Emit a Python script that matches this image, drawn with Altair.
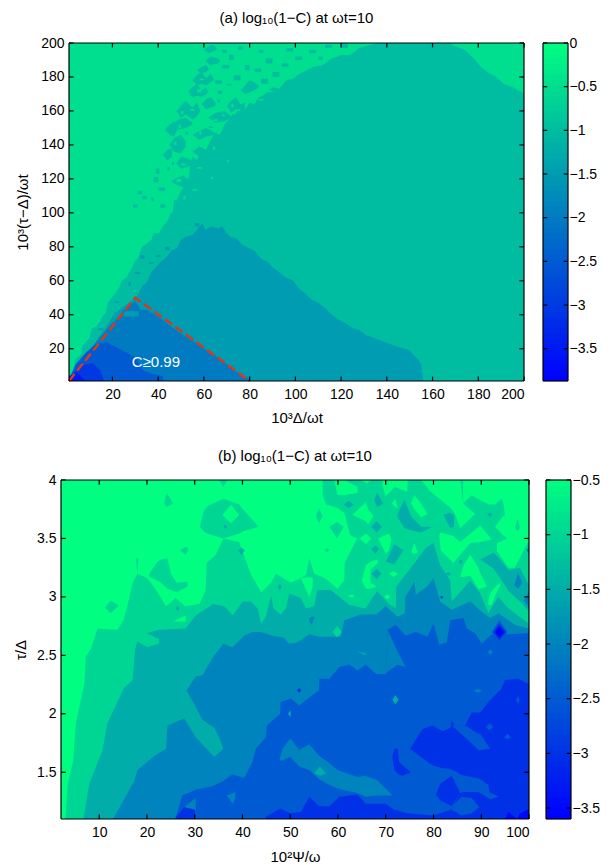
import altair as alt
import numpy as np
import pandas as pd

FONT = "Liberation Sans"

# ---------- panel (a): axis and colour range ----------
A_XLIM = [1, 200]
A_YLIM = [1, 200]
A_XTICKS = [20, 40, 60, 80, 100, 120, 140, 160, 180, 200]
A_YTICKS = [20, 40, 60, 80, 100, 120, 140, 160, 180, 200]
A_CLIM = [-3.87, 0]
A_CTICKS = [0, -0.5, -1, -1.5, -2, -2.5, -3, -3.5]

# upper edges of the filled bands of panel (a): (x, upper y)
A_BAND_M1 = [(1,1),(1.7,3),(3,9),(3.9,14),(6,16),(7,22),(9.8,26),(11,32),(13,33),(15.6,39),(17,41),(18,47),(21.4,53),(23,56),(24,60),(26,62),(28.7,68),(30,72),(31,73),(33,80),(35,82),(37,84),(38,88),(40.4,88),(42,92),(44,95),(45.5,100),(46.3,100),(47,108),(48,107),(50,113),(52,117),(53.6,122),(54,129),(55,133),(57,131),(59,138),(61,137),(63,143),(65,147),(67,146),(69,152),(71,155),(72.5,158),(74,158),(75.5,163),(78,161),(80,165),(82,164),(84,168),(87,170),(90,174),(93,173),(96,178),(99,179),(102,182),(105,184),(108,186),(112,187),(116,191),(120,193),(124,193),(128,197),(133,199),(136,200),(167,200),(170,198),(174,196),(178,191),(181,186),(185,182),(188,180),(191,176),(195,174),(199,171),(200,170)]
A_BAND_M15 = [(1,1),(1.7,4),(5,10),(8.3,16),(11,20),(14,27),(17,32),(21,41),(24,44),(27,47),(30,50),(31.7,53),(33,57),(35,59),(37,65),(39,68),(41,71),(43,73),(46,78),(48,79),(50,84),(52,86),(55,87),(57,90),(59.4,94),(60.5,90),(63,92),(66,91),(68,92),(70,88),(71.5,86),(74,85),(77,81),(80,79),(82,78),(85,73),(88,71),(90,68),(93,65),(96,62),(99,60),(102,55),(104,53),(107,49),(110,47),(113,44),(116,40),(119,37),(122,35),(125,32),(128,31),(131,28),(133,27),(137,25),(141,23),(145,21),(148,20),(150,19),(152,16),(154,13),(155,11),(155.5,6),(156,1)]
A_BAND_M2 = [(1,1),(1.5,4),(6,13),(12.7,23.5),(18.5,33),(23,39),(24.4,42),(27,45),(30,48),(32.4,43),(35,43),(40,39),(44.8,34),(50,29),(55,24.5),(60,20),(65,15.7),(70,11),(72.5,8),(76,5),(80,2.5),(80.5,1)]
A_BAND_M25 = [(1,1),(1,2),(4,11),(8.3,17.7),(12.7,22.6),(17,24),(20,22),(23.6,19.6),(27,17),(30.2,14.7),(32,10),(33.8,6.9),(38,5),(41.9,3.9),(42.6,1)]
A_BAND_M3 = [(1,1),(1.5,3),(5.4,9.8),(8,10.5),(11.2,11.8),(14.9,6.9),(16.3,1)]
A_BAND_M35 = [(1,1),(1,4),(4.6,5.9),(8.3,1)]

# irregular teal blobs of the speckled zone of panel (a): (x, lower y, upper y)
A_BLOBS_M1 = [
    [(60,196,196),(62,194,198),(64,195,199),(65.5,196,197)],
    [(61,189,190),(63,187,192),(66,188,191),(67,189,190)],
    [(57,184,184),(59,182,186),(61,183,187),(62,184,185)],
    [(55,178,178),(57,175,181),(59,176,183),(61,175,179),(63,177,182),(64.5,178,178)],
    [(53,171,171),(55,168,174),(57,169,176),(59,168,172),(61,170,174),(62,171,171)],
    [(48,160,160),(50,156,163),(52,158,166),(55,155,162),(57,157,165),(58.5,160,160)],
    [(59,164,164),(61,161,167),(63,162,168),(65,163,165)],
    [(70,163,163),(72,159,166),(74,161,168),(76,159,164),(78,162,165)],
    [(43,149,149),(45,146,152),(47,145,154),(48.5,149,150)],
    [(46,152,152),(49,149,155),(52,150,156),(55,152,153)],
    [(42,134,134),(44,131,137),(46,133,138)],
    [(45,140,140),(47,136,144),(50,135,146),(52,139,142)],
    [(55,146,146),(58,143,148),(61,145,150),(65,146,147)],
    [(62,156,156),(65,153,159),(69,154,160),(72,156,157)],
    [(48,129,129),(50,126,133),(53,127,132),(55,129,130)],
    [(46,118,119),(49,116,121),(51,115,122),(53.5,118,119)],
    [(55,136,136),(58,133,139),(61,135,137)],
    [(76,172,172),(78,170,175),(80,171,178),(82,172,177),(84,174,175)],
]
# single small speckles of panel (a): (x0, x1, y0, y1)
A_SPECK_M1 = [(68,71,185,187),(65,68,176,178),(39,40.5,123,126),(38,40,118,121),(31,33,111,113),(33,35,108,110),(37,38,107,109),(29,31,103,105),(40,43,113,115),(41,43,103,105),(73,76,178,181),(78,80,184,187),(71,73,190,193),(82,85,183,185),(85,88,176,179),(90,93,180,183),(87,90,188,191),(94,97,186,188),(100,103,190,192),(96,99,195,197),(106,109,194,196),(113,116,197,199),(110,112,190,192),(120,123,197,200),(66,68,170,172),(75,77,196,198),(84,86,194,196),(68,70,194,196),(66,67,165,167),(62,64,150,151),(46,47,128,130),(44,45,125,127),(52,53,146,148),(60,61,178,180),(70,72,175,176)]
A_SPECK_M05 = [(50,51,158,160),(54,56,160,161),(57,59,171,173),(58,60,178,179),(47,48,140,142),(49,50,150,152),(50,52,128,129),(48,50,118,120),(58,59,146,148),(64,66,154,155),(72,73,162,164),(74,76,160,161),(88,90,171,172),(92,94,176,177),(100,102,183,184),(107,109,188,189),(117,119,192,193),(84,86,166,167),(64,65,137,139),(57,59,126,127),(55,57,113,114),(70,71,130,131),(63,64,120,121),(52,54,136,137),(43,44,120,122),(51,52,108,110),(60,62,151,152),(68,69,157,158),(53,54,170,171),(55,56,179,180)]
A_SPECK_M15 = [(32,34,73,75),(36,38,70,71),(39,41,74,75),(43,45,78,80),(30,32,64,65),(27,28,57,59),(25,31.5,39,42),(21,23,47,48),(66,68,86,87),(56,58,92,94),(14,16,31,32),(73,75,9,10)]

# ---------- panel (b): axis and colour range ----------
B_XLIM = [2, 100]
B_YLIM = [1.1, 4]
B_XTICKS = [10, 20, 30, 40, 50, 60, 70, 80, 90, 100]
B_YTICKS = [1.5, 2, 2.5, 3, 3.5, 4]
B_CLIM = [-3.6, -0.5]
B_CTICKS = [-0.5, -1, -1.5, -2, -2.5, -3, -3.5]

# each contour patch of panel (b) is a list of (x, lower y, upper y)
B_M1_MAIN = [(2.9,1.1,1.1),(3.4,1.1,1.4),(4.55,1.1,1.6),(5.1,1.1,1.92),(6.9,1.1,2.26),(7.2,1.1,2.49),(8.3,1.1,2.56),(9.65,1.1,2.73),(13.8,1.1,2.72),(15.1,1.1,2.8),(16.3,1.1,2.99),(17,1.1,3.12),(18,1.1,3.2),(20.1,1.1,3.16),(21.9,1.1,3.06),(24,1.1,2.92),(26,1.1,2.99),(28,1.1,2.92),(31,1.1,2.94),(32.3,1.1,3.06),(32.5,1.1,3.29),(34.4,1.1,3.36),(36,1.1,3.5),(39.3,1.1,3.47),(41.8,1.1,3.19),(43.9,1.1,3.04),(46,1.1,3.12),(47,1.1,3.2),(50.1,1.1,3.12),(52.2,1.1,3.16),(53.3,1.1,3.19),(54,1.1,3.33),(55,1.1,3.2),(56.75,1.1,3.17),(56.8,1.1,4),(100,1.1,4)]
B_M1_ISLANDS = [
    [(31.1,3.6,3.6),(31.9,3.56,3.74),(32.8,3.54,3.78),(36,3.5,3.84),(39.3,3.54,3.79),(40.1,3.56,3.75),(43.4,3.6,3.6)],
    [(23.6,3.8,3.8),(24.1,3.77,3.89),(25.5,3.8,3.8)],
    [(26.9,3.4,3.4),(28.1,3.36,3.43),(28.6,3.4,3.42)],
    [(17.7,3.32,3.32),(18,3.2,3.34),(18.2,3.32,3.32)],
    [(35.1,4,4),(36,3.94,4),(36.8,4,4)],
    [(20.5,3.17,3.2),(22.2,3.14,3.3),(22.9,3.12,3.32),(24.3,3.07,3.33),(25,3.06,3.2),(26.2,3.04,3.12),(28.5,3.09,3.13)],
    [(11.2,2.91,2.91),(12.4,2.86,2.97),(14,2.92,2.93)],
]
B_BRIGHT_OVER = [
    [(52.2,3.16,3.16),(54,3.0,3.17),(54.7,3.09,3.16)],
    [(56.6,3.17,3.87),(56.8,3.17,3.87),(57.5,3.15,3.79),(58.5,3.12,3.78),(59.9,3.07,3.76),(61.3,3.14,3.72),(61.4,3.29,3.71),(62.5,3.38,3.53),(64,3.5,3.5)],
    [(59.2,4,4),(59.9,3.87,4),(61.3,3.87,4),(64.1,3.89,3.94)],
    [(63,3.7,3.7),(65.8,3.65,3.81),(66.3,3.62,3.75),(67.4,3.69,3.69)],
    [(64.5,3.5,3.5),(65.85,3.45,3.54),(67,3.5,3.5)],
    [(68.4,3.5,3.5),(70,3.37,3.53),(70.7,3.4,3.54),(71.2,3.49,3.49)],
    [(65,3.14,3.14),(65.85,3.07,3.27),(66.8,3.07,3.3)],
    [(66.8,3.23,3.3),(68.3,3.29,3.32)],
    [(66.8,3.07,3.12),(68,3.09,3.09)],
    [(70.7,3.2,3.2),(71.7,3.17,3.22),(72.6,3.2,3.2)],
    [(75.3,3.38,3.38),(76,3.37,3.46),(76.7,3.38,3.38)],
    [(71.3,3.8,3.8),(72,3.77,3.84),(72.5,3.76,3.77)],
    [(64.8,4,4),(66,3.97,4),(67,4,4)],
    [(69.3,3.95,4),(70,3.86,4),(71.9,3.94,4),(74.5,3.9,4),(74.6,4,4)],
    [(75.3,3.8,3.8),(76,3.75,3.87),(77.4,3.68,3.8),(78.7,3.71,3.71)],
    [(77.4,4,4),(79.4,3.9,4),(83.6,3.76,4),(84.5,3.71,4),(85.6,3.59,4),(86.2,3.61,3.8),(88.7,3.71,3.71)],
    [(86.2,3.8,4),(88,3.87,4),(91.5,3.79,4),(92.9,3.79,4),(94.3,3.84,4),(94.8,3.77,4),(95.7,3.25,4),(97,3.25,4),(99.7,3.46,4),(100,3.46,4)],
    [(92.9,3.6,3.6),(94.5,3.53,3.69),(95.7,3.5,3.69)],
    [(93.3,3.39,3.46),(95.7,3.25,3.5)],
    [(81.2,3.53,3.53),(81.5,3.4,3.55),(84.2,3.29,3.52),(85.6,3.36,3.47),(87.7,3.46,3.54),(89.8,3.47,3.61),(92.2,3.49,3.49)],
    [(85.6,3.17,3.17),(86.3,3.17,3.27),(87.7,3.18,3.36),(89.4,3.07,3.25),(89.8,3.07,3.2),(91.2,3.09,3.09)],
    [(91.5,2.93,2.97),(91.9,2.93,3.03),(92.2,2.93,3.05),(93,3.02,3.09),(94,3.1,3.12)],
    [(35.8,3.7,3.7),(37.6,3.63,3.79),(39.3,3.7,3.7)],
    [(62,3.01,3.01),(63,2.99,3.02),(63.4,3.01,3.01)],
    [(69.7,3.0,3.0),(70.3,2.98,3.02),(71,3.0,3.0)],
    [(25.5,2.79,2.79),(26.5,2.79,2.81),(28.1,2.79,2.84)],
]
B_M1_ON_BRIGHT = [
    [(55.4,3.69,3.69),(56,3.63,3.76),(56.8,3.69,3.69)],
    [(58.2,3.6,3.6),(59.8,3.5,3.64),(61.2,3.6,3.6)],
    [(57.2,3.4,3.4),(57.7,3.38,3.42),(58.2,3.4,3.4)],
    [(97.1,3.59,3.59),(97.6,3.56,3.67),(98.1,3.59,3.59)],
]
B_M15_ISLANDS = [
    [(61.2,3.79,3.79),(62.2,3.76,3.82),(63.3,3.79,3.79)],
    [(67.6,3.83,3.83),(68.2,3.77,3.89),(69.5,3.8,3.8)],
    [(67,3.6,3.6),(68.1,3.55,3.65),(69.2,3.6,3.6)],
    [(67,3.41,3.41),(67.8,3.37,3.44),(68.6,3.41,3.41)],
    [(67,3.2,3.2),(68.1,3.15,3.24),(69.1,3.2,3.2)],
    [(70,3.3,3.3),(71.8,3.28,3.45),(73.7,3.4,3.4)],
    [(72.5,3.68,3.71),(73.9,3.59,3.83),(75.3,3.57,3.69),(77.4,3.55,3.6),(79.8,3.6,3.6)],
    [(82.1,3.7,3.7),(83.5,3.59,3.72),(84.3,3.6,3.7)],
    [(91.2,3.71,3.71),(91.8,3.68,3.72),(92.4,3.71,3.71)],
    [(89.8,3.32,3.32),(92.6,3.24,3.38),(94,3.16,3.32),(95.7,3.05,3.23),(98.1,2.96,3.25),(100,2.88,3.1)],
    [(47.4,3.09,3.09),(47.8,3.05,3.11),(48.2,3.09,3.09)],
    [(39,3.4,3.4),(39.8,3.36,3.42),(40.5,3.4,3.4)],
    [(36,3.6,3.6),(36.4,3.58,3.62),(36.8,3.6,3.6)],
    [(82.4,3.2,3.2),(83.1,3.18,3.21),(83.8,3.2,3.2)],
    [(85.3,3.3,3.3),(85.7,3.28,3.32),(86.1,3.3,3.3)],
    [(78,3.3,3.3),(78.4,3.28,3.32),(78.8,3.3,3.3)],
    [(26,2.9,2.9),(26.4,2.88,2.92),(26.8,2.9,2.9)],
]
B_M15_MAIN = [(6.7,1.1,1.1),(7.9,1.1,1.4),(10.7,1.1,1.69),(11.7,1.1,1.92),(15.2,1.1,2.22),(17,1.1,2.29),(17.5,1.1,2.55),(18,1.1,2.62),(20,1.1,2.57),(22.5,1.1,2.6),(22.6,1.1,2.72),(28.1,1.1,2.73),(30.2,1.1,2.84),(33.9,1.1,2.94),(36.2,1.1,2.92),(38,1.1,2.84),(40,1.1,2.96),(41.8,1.1,2.96),(43.2,1.1,2.9),(43.9,1.1,2.77),(44.9,1.1,2.83),(46,1.1,3.01),(46.5,1.1,2.9),(48,1.1,2.85),(49.1,1.1,2.9),(49.8,1.1,3.03),(52.2,1.1,2.99),(53.3,1.1,2.9),(55,1.1,2.92),(55.7,1.1,3.06),(58.5,1.1,3.06),(62.4,1.1,2.93),(65.8,1.1,2.9),(67,1.1,2.98),(68.2,1.1,3.05),(70.7,1.1,2.94),(72.1,1.1,2.9),(72.2,1.1,3.09),(75.3,1.1,3.25),(78.4,1.1,3.42),(80,1.1,3.46),(81.4,1.1,3.27),(83.5,1.1,3.14),(83.8,1.1,2.96),(86,1.1,3.06),(87.7,1.1,3.14),(89.8,1.1,3.03),(91.5,1.1,2.86),(92.6,1.1,2.94),(93.6,1.1,3.0),(95.7,1.1,2.9),(100,1.1,2.77)]
B_M15_TIP = [[(19.9,2.69,2.69),(22.6,2.64,2.72)]]
B_M1_ON_M15 = [
    [(58.9,2.7,2.7),(59.8,2.65,2.75),(60.8,2.7,2.7)],
    [(75.5,2.8,2.8),(76.3,2.77,2.83),(77.4,2.8,2.8)],
]
B_M2_LEFT = [(12.9,1.1,1.1),(17.3,1.1,1.42),(18,1.1,1.52),(21.9,1.1,1.65),(24,1.1,1.7),(24.3,1.1,1.9),(27.8,1.1,1.96),(30.2,1.1,1.8),(34.1,1.1,1.63),(36,1.1,1.7),(37.9,1.1,2.57),(40.4,1.1,2.67),(42.1,1.1,2.7),(43.9,1.1,2.7),(46,1.1,2.67),(48.7,1.1,2.65),(49.8,1.1,2.6),(51.5,1.1,2.61),(54,1.1,2.68),(56.1,1.1,2.66),(60.6,1.1,2.66),(61.3,1.1,2.8),(64.8,1.1,2.85),(68,1.1,2.85),(70,1.1,2.92),(72.5,1.1,2.83),(74,1.1,2.86)]
B_M2_RIGHT = [(74,1.1,2.86),(74.1,1.1,3.0),(76,1.1,3.13),(76.3,1.1,3.02),(78.7,1.1,3.09),(80,1.1,3.16),(81.4,1.1,2.96),(83.8,1.1,2.89),(87.7,1.1,2.96),(90.5,1.1,2.86),(91.9,1.1,2.82),(93.6,1.1,2.86),(97.1,1.1,2.76),(100,1.1,2.73)]
B_M2_UPPER = [[(28.3,2.2,2.2),(30.2,2.06,2.32),(31.6,1.95,2.33),(34.1,1.88,2.5),(35.1,1.8,2.55),(36,1.7,2.6),(37.9,1.7,2.57)]]
B_M2_SMALL = [
    [(54,2.79,2.82),(54.5,2.76,2.83),(55,2.82,2.83)],
    [(98.9,2.97,2.97),(100,2.91,3.04)],
    [(99.5,3.4,3.4),(100,3.37,3.43)],
    [(96.9,3.1,3.1),(97.7,3.07,3.2),(98.6,3.12,3.12)],
]
B_M25_MAIN = [(26,1.1,1.11),(27.4,1.1,1.3),(30.2,1.1,1.35),(33.7,1.1,1.38),(35.8,1.1,1.42),(37.9,1.1,1.48),(40.4,1.1,1.45),(42.1,1.1,1.59),(42.8,1.1,1.7),(44.9,1.1,1.8),(45.1,1.1,1.9),(47.9,1.1,2.0),(48,1.1,2.1),(50.1,1.1,2.13),(51.9,1.1,2.07),(54.3,1.1,2.15),(56,1.1,2.2),(56.1,1.1,2.3),(58.2,1.1,2.3),(60.3,1.1,2.4),(62.4,1.1,2.42),(64.1,1.1,2.37),(65.8,1.1,2.42),(68,1.1,2.34),(70,1.1,2.34),(70.4,1.1,2.72),(72.1,1.1,2.76),(74.2,1.1,2.67),(76.3,1.1,2.7),(78.7,1.1,2.66),(80,1.1,2.77),(81.2,1.1,2.59),(82.8,1.1,2.61),(83.5,1.1,2.8),(86.3,1.1,2.82),(87,1.1,2.73),(88.7,1.1,2.69),(90.1,1.1,2.6),(92.2,1.1,2.68),(93.8,1.1,2.68),(95.4,1.1,2.68),(99.7,1.1,2.69),(100,1.1,2.69)]
B_M2_OVER = [
    [(70,2.34,2.34),(70.4,2.36,2.72),(72.5,2.42,2.53),(74.2,2.4,2.4)],
    [(47.7,1.6,1.6),(48.4,1.6,1.7),(50,1.63,1.79),(51.9,1.55,1.69),(54,1.52,1.74),(56.1,1.44,1.64),(57.8,1.4,1.59),(59.9,1.36,1.52),(64.1,1.32,1.46),(65.8,1.29,1.47),(68.3,1.3,1.43),(71.4,1.3,1.3)],
    [(27.8,1.2,1.2),(30.2,1.18,1.28)],
    [(36.7,1.3,1.3),(38,1.23,1.32),(38.5,1.28,1.33)],
    [(88.4,2.2,2.2),(89.3,2.18,2.21),(90.2,2.2,2.2)],
    [(91.4,2.53,2.53),(91.9,2.5,2.55),(92.4,2.53,2.53)],
]
B_M15_SMALL = [
    [(55,1.49,1.49),(56.2,1.47,1.55),(57.5,1.49,1.49)],
    [(63.9,2.53,2.53),(65.8,2.5,2.52)],
    [(71.4,2.12,2.12),(72,2.08,2.16),(72.7,2.12,2.12)],
    [(49.5,2.0,2.0),(50.1,1.97,2.03)],
]
B_M3_BOTTOM = [(44.9,1.1,1.12),(47.9,1.1,1.19),(50,1.1,1.15),(52.2,1.1,1.16),(54,1.1,1.29),(56.1,1.1,1.21),(58.2,1.1,1.21),(60.3,1.1,1.29),(64.1,1.1,1.31),(65.8,1.1,1.23),(70,1.1,1.23),(71.8,1.1,1.18),(74.6,1.1,1.15),(80,1.1,1.13),(83.6,1.1,1.18),(85.6,1.1,1.32),(86.3,1.1,1.33),(89.4,1.1,1.33),(91.9,1.1,1.27),(93.6,1.1,1.29),(100,1.1,1.3)]
B_M3_BIG = [(75.1,1.7,1.7),(77.7,1.62,1.87),(79.8,1.56,1.9),(81.9,1.535,1.85),(83.6,1.53,1.88),(83.8,1.52,1.95),(84.5,1.51,1.89),(85.6,1.48,1.9),(86.6,1.47,1.9),(88,1.46,2.01),(89.1,1.45,2.01),(89.8,1.44,2.01),(91.5,1.39,2.1),(91.7,1.33,2.11),(93.6,1.29,2.19),(94,1.1,2.2),(95,1.1,2.29),(97.8,1.1,2.3),(99.7,1.1,2.26),(100,1.1,2.26)]
B_M3_SMALL = [
    [(80.5,1.31,1.31),(81.4,1.26,1.4),(83.8,1.21,1.47),(85.6,1.32,1.32)],
    [(71.4,1.63,1.63),(71.8,1.52,1.7),(72.5,1.49,1.7),(72.8,1.48,1.59),(73.5,1.47,1.56),(75.3,1.5,1.5)],
    [(26,1.1,1.11),(27.8,1.1,1.2),(30,1.1,1.18),(30.1,1.1,1.1)],
    [(51.4,2.2,2.2),(51.9,2.18,2.22),(52.3,2.2,2.2)],
]
B_M25_OVER = [
    [(83.8,1.9,1.9),(86.6,1.8,1.9),(89.4,1.69,1.83),(89.8,1.69,1.83),(91.9,1.7,1.7)],
    [(83.8,1.18,1.21),(85.9,1.13,1.29),(88,1.15,1.28),(89.6,1.2,1.2)],
    [(97.3,2.12,2.12),(97.7,2.08,2.15),(98,2.12,2.12)],
    [(91,1.89,1.89),(91.7,1.86,1.92),(92.6,1.89,1.89)],
    [(94.8,1.8,1.8),(95.5,1.78,1.83),(96.2,1.8,1.8)],
    [(92.2,2.7,2.7),(93.8,2.6,2.8),(95.5,2.7,2.7)],
    [(81.3,3.0,3.0),(81.7,2.98,3.01),(82.1,3.0,3.0)],
]
B_M3_DIAMOND = [[(92.5,2.7,2.7),(93.8,2.63,2.77),(95.2,2.7,2.7)]]
B_M35_PATCHES = [
    [(92.9,2.7,2.7),(93.8,2.65,2.75),(94.8,2.7,2.7)],
    [(95,1.1,1.1),(95.7,1.1,1.16),(97.5,1.1,1.1),(98.1,1.1,1.15),(99.7,1.1,1.18),(100,1.1,1.18)],
]

DASH_X = [1, 30, 80]
DASH_Y = [1, 50, 1]
LABEL_X = [39]
LABEL_Y = [12]
LABEL_T = ["C≥0.99"]


def patches(*groups):
    rows, sid = [], 0
    for level, plist in groups:
        for patch in plist:
            sid += 1
            for x, lo, hi in patch:
                rows.append(dict(x=x, lo=lo, hi=hi, level=level, sid=sid))
    return pd.DataFrame(rows)


def upper(edge, base=1):
    return [(x, base, y) for x, y in edge]


def frame_rules(xlim, ylim, xt, yt, lx, ly):
    r = [
        dict(x=xlim[0], x2=xlim[1], y=ylim[0], y2=ylim[0]),
        dict(x=xlim[0], x2=xlim[1], y=ylim[1], y2=ylim[1]),
        dict(x=xlim[0], x2=xlim[0], y=ylim[0], y2=ylim[1]),
        dict(x=xlim[1], x2=xlim[1], y=ylim[0], y2=ylim[1]),
    ]
    for t in xt:
        r.append(dict(x=t, x2=t, y=ylim[0], y2=ylim[0] + ly))
        r.append(dict(x=t, x2=t, y=ylim[1], y2=ylim[1] - ly))
    for t in yt:
        r.append(dict(x=xlim[0], x2=xlim[0] + lx, y=t, y2=t))
        r.append(dict(x=xlim[1], x2=xlim[1] - lx, y=t, y2=t))
    return pd.DataFrame(r)


def color_scale(clim):
    return alt.Scale(domain=clim, range=["#0000ff", "#00ff80"], interpolate="rgb")


def panel(df, rects, xlim, ylim, xt, yt, clim, xtitle, ytitle, title, w, h, lx, ly, ypad, xpad, toffset, xoff=0, with_label=False):
    xs = alt.Scale(domain=xlim, nice=False, zero=False, range=[xoff, w])
    ys = alt.Scale(domain=ylim, nice=False, zero=False)
    cs = color_scale(clim)
    xax = alt.Axis(values=xt, title=xtitle, format=".4~g", labelPadding=6, titlePadding=xpad, labelOverlap=False)
    yax = alt.Axis(values=yt, title=ytitle, format=".4~g", labelPadding=5, titlePadding=ypad, labelOverlap=False, offset=-xoff)
    X = alt.X("x:Q", scale=xs, axis=xax)
    Y = alt.Y("y:Q", scale=ys, axis=yax)
    layers = [
        alt.Chart(df).mark_area(clip=True, interpolate="linear").encode(
            x=X,
            y=alt.Y("lo:Q", scale=ys, axis=yax),
            y2="hi:Q",
            detail="sid:N",
            color=alt.Color("level:Q", scale=cs, legend=None),
        )
    ]
    if rects is not None:
        layers.append(
            alt.Chart(rects).mark_rect(clip=True).encode(
                x=alt.X("x0:Q", scale=xs, axis=xax),
                x2="x1:Q",
                y=alt.Y("y0:Q", scale=ys, axis=yax),
                y2="y1:Q",
                color=alt.Color("level:Q", scale=cs, legend=None),
            )
        )
    if with_label:
        layers.append(
            alt.Chart(pd.DataFrame(dict(x=DASH_X, y=DASH_Y))).mark_line(
                color="#d8391f", strokeWidth=2.5, strokeDash=[9, 4]
            ).encode(x=X, y=Y)
        )
        layers.append(
            alt.Chart(pd.DataFrame(dict(x=LABEL_X, y=LABEL_Y, t=LABEL_T))).mark_text(
                color="white", fontSize=15, font=FONT
            ).encode(x=X, y=Y, text="t:N")
        )
    rules = frame_rules(xlim, ylim, xt, yt, lx, ly)
    layers.append(
        alt.Chart(rules).mark_rule(color="black", strokeWidth=1.2).encode(x=X, x2="x2:Q", y=Y, y2="y2:Q")
    )
    return alt.layer(*layers).properties(
        width=w, height=h,
        title=alt.TitleParams(title, fontSize=15, font=FONT, fontWeight="normal", offset=toffset, dx=xoff / 2),
    )


def colorbar(clim, ticks, w, h):
    edges = np.linspace(clim[0], clim[1], 65)
    step = edges[1] - edges[0]
    bar = pd.DataFrame(dict(
        a=edges[:-1],
        b=np.minimum(edges[1:] + step * 0.3, clim[1]),
        level=(edges[:-1] + edges[1:]) / 2,
    ))
    ys = alt.Scale(domain=clim, nice=False, zero=False)
    xs = alt.Scale(domain=[0, 1], nice=False)
    yax = alt.Axis(values=ticks, orient="right", title=None, format=".4~g", labelPadding=1, labelOverlap=False)
    fill = alt.Chart(bar).mark_rect().encode(
        x=alt.value(0), x2=alt.value(w),
        y=alt.Y("a:Q", scale=ys, axis=yax),
        y2="b:Q",
        color=alt.Color("level:Q", scale=color_scale(clim), legend=None),
    )
    ticksdf = frame_rules([0, 1], clim, [], ticks, 0.17, 0)
    rule = alt.Chart(ticksdf).mark_rule(color="black", strokeWidth=1.2).encode(
        x=alt.X("x:Q", scale=xs, axis=None), x2="x2:Q",
        y=alt.Y("y:Q", scale=ys, axis=yax), y2="y2:Q",
    )
    return alt.layer(fill, rule).properties(width=w, height=h)


def speck_rows(level, items):
    return [dict(x0=a, x1=b, y0=c, y1=d, level=level) for a, b, c, d in items]


a_df = patches(
    (-0.5, [[(1, 1, 200), (200, 1, 200)]]),
    (-1, [upper(A_BAND_M1)] + A_BLOBS_M1),
    (-1.5, [upper(A_BAND_M15)]),
    (-2, [upper(A_BAND_M2)]),
    (-2.5, [upper(A_BAND_M25)]),
    (-3, [upper(A_BAND_M3)]),
    (-3.5, [upper(A_BAND_M35)]),
)
a_rects = pd.DataFrame(speck_rows(-1, A_SPECK_M1) + speck_rows(-0.5, A_SPECK_M05) + speck_rows(-1.5, A_SPECK_M15))

b_df = patches(
    (-0.5, [[(2, 1.1, 4), (100, 1.1, 4)]]),
    (-1, [B_M1_MAIN] + B_M1_ISLANDS),
    (-0.5, B_BRIGHT_OVER),
    (-1, B_M1_ON_BRIGHT),
    (-1.5, B_M15_ISLANDS),
    (-1.5, [B_M15_MAIN] + B_M15_TIP),
    (-1, B_M1_ON_M15),
    (-2, [B_M2_LEFT, B_M2_RIGHT] + B_M2_UPPER + B_M2_SMALL),
    (-2.5, [B_M25_MAIN]),
    (-2, B_M2_OVER),
    (-1.5, B_M15_SMALL),
    (-3, [B_M3_BOTTOM, B_M3_BIG] + B_M3_SMALL),
    (-2.5, B_M25_OVER),
    (-3, B_M3_DIAMOND),
    (-3.5, B_M35_PATCHES),
)

pa = panel(a_df, a_rects, A_XLIM, A_YLIM, A_XTICKS, A_YTICKS, A_CLIM,
           "10³Δ/ωt", "10³(τ−Δ)/ωt", "(a) log₁₀(1−C) at ωt=10", 463, 338, 2, 2.6, 10, 9, 10, xoff=8, with_label=True)
pb = panel(b_df, None, B_XLIM, B_YLIM, B_XTICKS, B_YTICKS, B_CLIM,
           "10²Ψ/ω", "τ/Δ", "(b) log₁₀(1−C) at ωt=10", 468, 339, 1, 0.04, 8, 10, 9)

row_a = alt.hconcat(pa, colorbar(A_CLIM, A_CTICKS, 25, 338), spacing=17)
row_b = alt.hconcat(pb, colorbar(B_CLIM, B_CTICKS, 25, 339), spacing=15)

chart = alt.vconcat(row_a, row_b, spacing=24).resolve_scale(color="independent").configure_view(
    stroke=None
).configure_axis(
    grid=False, domain=False, ticks=False, tickSize=0,
    labelFont=FONT, titleFont=FONT, labelFontSize=14, titleFontSize=15,
    labelColor="black", titleColor="black", titleFontWeight="normal",
).properties(
    padding={"left": 5, "right": 0, "top": 3, "bottom": 0}
)

chart.save("out.html", embed_options={"renderer": "svg", "actions": False})
